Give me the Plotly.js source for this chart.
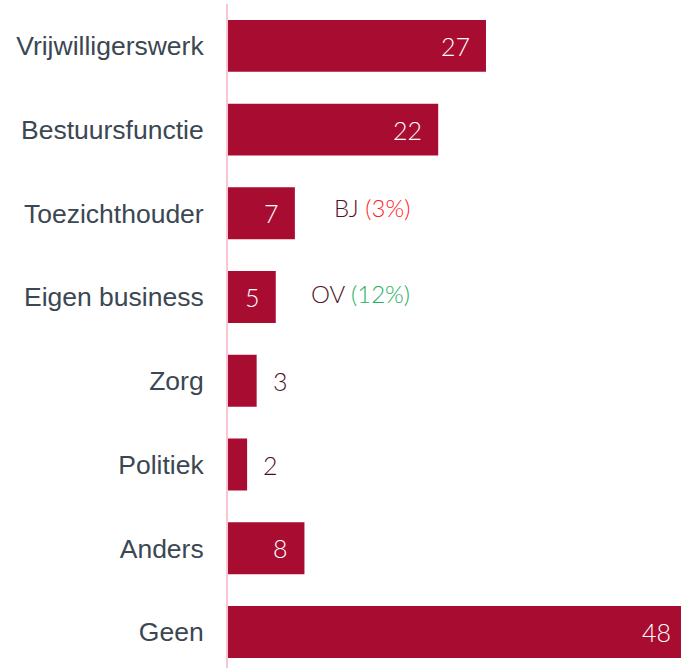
<!DOCTYPE html>
<html>
<head>
<meta charset="utf-8">
<script src="https://cdn.plot.ly/plotly-3.0.1.min.js"></script>
<style>
html,body{margin:0;padding:0;overflow:hidden;background:#fff;}
#chart{width:700px;height:668px;}
</style>
</head>
<body>
<div id="chart"></div>
<script>
// Data
const categories = ["Vrijwilligerswerk","Bestuursfunctie","Toezichthouder","Eigen business","Zorg","Politiek","Anders","Geen"];
const values = [27, 22, 7, 5, 3, 2, 8, 48];
const outsideLabel = [false, false, false, false, true, true, false, false];
const notes = [
  {row: "Toezichthouder", label: "BJ", pct: "(3%)", pctColor: "#ff2424"},
  {row: "Eigen business", label: "OV", pct: "(12%)", pctColor: "#1fb062"}
];

const barColor = "#a90c31";
const valueFont = "Lato, sans-serif";

const trace = {
  type: "bar",
  orientation: "h",
  y: categories,
  x: values,
  marker: {color: barColor},
  width: 0.62,
  hoverinfo: "x+y"
};

const annotations = [];
values.forEach((v, i) => {
  const outside = outsideLabel[i];
  annotations.push({
    xref: "x", yref: "y",
    x: v, y: categories[i],
    text: String(v),
    showarrow: false,
    xanchor: outside ? "left" : "right",
    xshift: outside ? 14 : -14,
    font: {family: valueFont, size: 25, color: outside ? "#4a0e1f" : "#ffffff", weight: 300}
  });
});
const noteShift = [6, 4];
notes.forEach((n, k) => {
  annotations.push({
    xref: "paper", yref: "y",
    x: (412 - 228) / 472, y: n.row,
    yshift: noteShift[k],
    xanchor: "right",
    showarrow: false,
    text: n.label + ' <span style="color:' + n.pctColor + '">' + n.pct + '</span>',
    font: {family: valueFont, size: 24, color: "#521426", weight: 300}
  });
});

const layout = {
  width: 700,
  height: 668,
  margin: {l: 228, r: 0, t: 4, b: 0, pad: 0},
  paper_bgcolor: "#ffffff",
  plot_bgcolor: "#ffffff",
  showlegend: false,
  bargap: 0.38,
  xaxis: {
    range: [0, 49.4],
    showgrid: false,
    zeroline: false,
    showticklabels: false,
    showline: false,
    fixedrange: true
  },
  yaxis: {
    type: "category",
    range: [7.43, -0.5],
    showgrid: false,
    zeroline: false,
    showline: true,
    linecolor: "#f9c5d1",
    linewidth: 2,
    ticks: "",
    ticklabelstandoff: 17,
    tickfont: {family: "Liberation Sans", size: 26.5, color: "#3b4752"},
    fixedrange: true
  },
  annotations: annotations
};

Plotly.newPlot("chart", [trace], layout, {displayModeBar: false, staticPlot: true});
</script>
</body>
</html>
